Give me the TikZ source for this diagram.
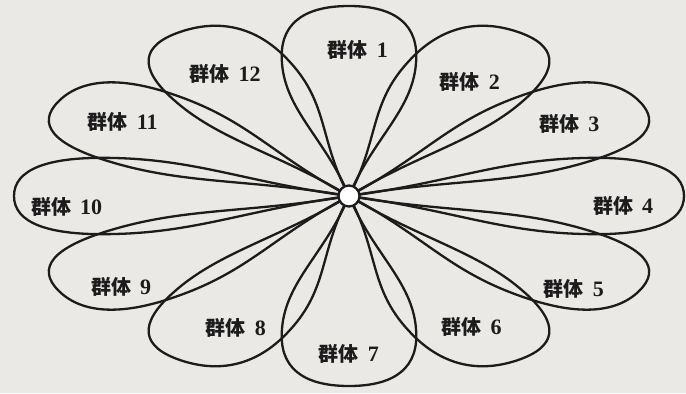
\documentclass[tikz,border=0pt]{standalone}
\usepackage{fontspec}
\newfontfamily\cjk{Noto Sans CJK SC}
\newfontfamily\numf{Liberation Serif}
\definecolor{paper}{RGB}{234,233,230}
\definecolor{ink}{RGB}{28,28,28}

\begin{document}
\begin{tikzpicture}[
  % 1 unit = one pixel of the 686 x 393 page, origin at the hub
  x=0.5pt, y=0.5pt, font=\cjk\bfseries\fontsize{10}{12}\selectfont,
  pet/.style={draw=ink, line width=1.15pt, line join=round},
  lab/.style={text=ink, inner sep=1pt},
  hub/.style={circle, draw=ink, fill=white, line width=1.15pt, minimum size=10.5pt, inner sep=0pt},
]
\fill[paper] (-349,-197) rectangle (337,196);
\useasboundingbox (-349,-197) rectangle (337,196);
% petals: the unit axes are turned to each petal, then stretched wide
\foreach \a in {90,60,...,-240}
  \draw[pet, x={({167.5pt*cos(\a)},{95pt*sin(\a)})}, y={({-167.5pt*sin(\a)},{95pt*cos(\a)})}]
    (0,0) .. controls (0.3,0.07) and (0.45,0.19) .. (0.7,0.2)
          .. controls (0.9,0.21) and (1,0.14) .. (1,0)
          .. controls (1,-0.14) and (0.9,-0.21) .. (0.7,-0.2)
          .. controls (0.45,-0.19) and (0.3,-0.07) .. cycle;
% labels
\begin{scope}[x=167.5pt, y=95pt]
  \foreach \i/\a/\r in {1/88/0.77, 2/59/0.70, 3/30/0.76, 4/-3.5/0.82, 5/-36/0.83, 6/-62/0.78,
                        7/-90/0.83, 8/-116/0.77, 9/-145/0.83, 10/-176/0.845, 11/150/0.78, 12/120/0.74}
    \node[lab] (g\i) at (\a:\r) {群体\hspace{4.5pt}{\numf\bfseries\fontsize{11}{12}\selectfont\i}};
\end{scope}
\node[hub] (hub) at (0,0) {};
\end{tikzpicture}
\end{document}
